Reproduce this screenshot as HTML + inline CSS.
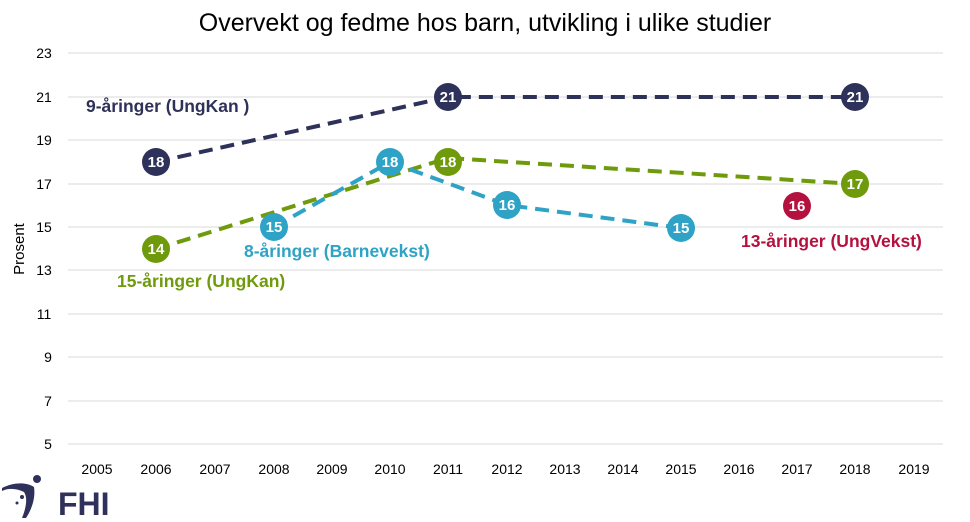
<!DOCTYPE html>
<html><head><meta charset="utf-8"><style>
html,body{margin:0;padding:0;background:#fff;}
svg{display:block;font-family:"Liberation Sans",sans-serif;}
</style></head><body>
<svg width="970" height="522" viewBox="0 0 970 522">
<text x="485" y="31" font-size="25" text-anchor="middle" fill="#000">Overvekt og fedme hos barn, utvikling i ulike studier</text>
<g stroke="#d9d9d9" stroke-width="1">
<line x1="68" x2="943" y1="53" y2="53"/><line x1="68" x2="943" y1="97" y2="97"/>
<line x1="68" x2="943" y1="140" y2="140"/><line x1="68" x2="943" y1="184" y2="184"/>
<line x1="68" x2="943" y1="227" y2="227"/><line x1="68" x2="943" y1="270" y2="270"/>
<line x1="68" x2="943" y1="314" y2="314"/><line x1="68" x2="943" y1="357" y2="357"/>
<line x1="68" x2="943" y1="401" y2="401"/><line x1="68" x2="943" y1="444" y2="444"/>
</g>
<g font-size="14" fill="#000" text-anchor="middle">
<text x="44" y="58">23</text><text x="44" y="102">21</text><text x="44" y="145">19</text><text x="44" y="189">17</text><text x="44" y="232">15</text><text x="44" y="275">13</text><text x="44" y="319">11</text><text x="48" y="362">9</text><text x="48" y="406">7</text><text x="48" y="449">5</text>
<text x="97" y="474">2005</text><text x="156" y="474">2006</text><text x="215" y="474">2007</text><text x="274" y="474">2008</text><text x="332" y="474">2009</text><text x="390" y="474">2010</text><text x="448" y="474">2011</text><text x="507" y="474">2012</text><text x="565" y="474">2013</text><text x="623" y="474">2014</text><text x="681" y="474">2015</text><text x="739" y="474">2016</text><text x="797" y="474">2017</text><text x="855" y="474">2018</text><text x="914" y="474">2019</text>
</g>
<text transform="translate(24,249) rotate(-90)" font-size="15" text-anchor="middle">Prosent</text>
<g fill="none" stroke-width="4" stroke-dasharray="14,8">
<polyline stroke="#2e3159" points="156,162 448,97 855,97"/>
<polyline stroke="#6e9a0b" points="156,249 448,158 855,184"/>
<polyline stroke="#2ea3c5" points="274,227 390,162 507,205 681,228"/>
</g>
<g font-size="15" font-weight="bold" fill="#fff" text-anchor="middle">
<circle cx="156" cy="162" r="14" fill="#2e3159"/><text x="156" y="167">18</text>
<circle cx="448" cy="97" r="14" fill="#2e3159"/><text x="448" y="102">21</text>
<circle cx="855" cy="97" r="14" fill="#2e3159"/><text x="855" y="102">21</text>
<circle cx="156" cy="249" r="14" fill="#6e9a0b"/><text x="156" y="254">14</text>
<circle cx="448" cy="162" r="14" fill="#6e9a0b"/><text x="448" y="167">18</text>
<circle cx="855" cy="184" r="14" fill="#6e9a0b"/><text x="855" y="189">17</text>
<circle cx="274" cy="227" r="14" fill="#2ea3c5"/><text x="274" y="232">15</text>
<circle cx="390" cy="162" r="14" fill="#2ea3c5"/><text x="390" y="167">18</text>
<circle cx="507" cy="205" r="14" fill="#2ea3c5"/><text x="507" y="210">16</text>
<circle cx="681" cy="228" r="14" fill="#2ea3c5"/><text x="681" y="233">15</text>
<circle cx="797" cy="206" r="14" fill="#b5113f"/><text x="797" y="211">16</text>
</g>
<g font-size="17.5" font-weight="bold">
<text x="86" y="112" fill="#2e3159">9-åringer (UngKan )</text>
<text x="244" y="257" fill="#2ea3c5">8-åringer (Barnevekst)</text>
<text x="117" y="287" fill="#6e9a0b">15-åringer (UngKan)</text>
<text x="741" y="247" fill="#b5113f">13-åringer (UngVekst)</text>
</g>
<g fill="#2e3159">
<path d="M2,488 C14,482 26,482 34,487 C36,500 30,512 26,518 L22,518 C26,508 28,498 24,492 C16,488 8,488 2,491 Z"/>
<circle cx="37" cy="479" r="4"/>
<circle cx="22" cy="497" r="2"/><circle cx="17" cy="503" r="1.5"/>
<text x="58" y="515" font-size="32" font-weight="bold">FHI</text>
</g>
</svg>
</body></html>
